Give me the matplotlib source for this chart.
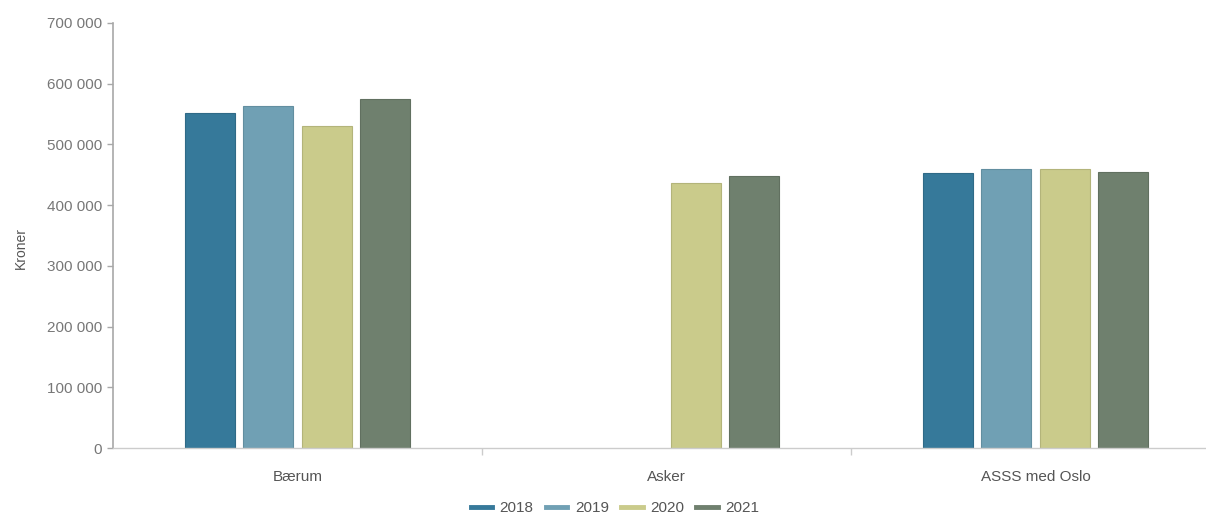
import numpy as np
import matplotlib.pyplot as plt
from matplotlib import rcParams
from matplotlib.lines import Line2D
from matplotlib.ticker import FuncFormatter

categories = ["Bærum", "Asker", "ASSS med Oslo"]
years = ["2018", "2019", "2020", "2021"]
values_2018 = [552000, np.nan, 453000]
values_2019 = [563000, np.nan, 459000]
values_2020 = [530000, 437000, 459000]
values_2021 = [575000, 448000, 455000]
colors = ["#36799a", "#70a0b4", "#cacb8b", "#6f806e"]
edges = ["#2f6a87", "#628ea0", "#b3b47a", "#617060"]


if __name__ == '__main__':
    rcParams["font.family"] = ["Liberation Sans", "DejaVu Sans"]
    fig = plt.figure(figsize=(12.06, 5.15), dpi=100)
    ax = fig.add_axes([113 / 1206, 67 / 515, 1 - 113 / 1206, 425 / 515])

    x = np.arange(len(categories))
    step = 0.158
    width = 0.1355
    series = [values_2018, values_2019, values_2020, values_2021]
    for i, (year, vals) in enumerate(zip(years, series)):
        ax.bar(x + (i - 1.5) * step, vals, width=width,
               color=colors[i], edgecolor=edges[i], linewidth=0.8,
               label=year)

    ax.set_xlim(-0.5, -0.5 + 1093 / 369)
    ax.set_ylim(0, 700000)
    ax.set_yticks(np.arange(0, 700001, 100000))
    ax.yaxis.set_major_formatter(FuncFormatter(lambda v, p: f"{int(v):,}".replace(",", " ")))
    ax.set_xticks(x)
    ax.set_xticklabels(categories)
    ax.set_xticks([0.5, 1.5], minor=True)

    for s in ["top", "right"]:
        ax.spines[s].set_visible(False)
    ax.spines["left"].set_color("#a8a8a8")
    ax.spines["left"].set_linewidth(1.2)
    ax.spines["bottom"].set_color("#cccccc")
    ax.spines["bottom"].set_linewidth(1.0)

    ax.tick_params(axis="y", colors="#a8a8a8", labelcolor="#777777",
                   labelsize=11, length=4, width=1, pad=4)
    ax.tick_params(axis="x", which="major", length=0, labelcolor="#555555",
                   labelsize=11, pad=16)
    ax.tick_params(axis="x", which="minor", length=5, color="#cccccc", width=1)

    ax.set_ylabel("Kroner", color="#555555", fontsize=10)
    ax.yaxis.set_label_coords(-85 / 1093, 0.47)

    handles = [Line2D([], [], color=c, lw=3.5) for c in colors]
    leg = fig.legend(handles, years, loc="center", bbox_to_anchor=(615 / 1206, 7 / 515),
                     ncol=4, frameon=False, fontsize=11, handlelength=1.4,
                     handletextpad=0.5, columnspacing=0.8)
    for t in leg.get_texts():
        t.set_color("#555555")

    fig.savefig("out.png", dpi=100)
